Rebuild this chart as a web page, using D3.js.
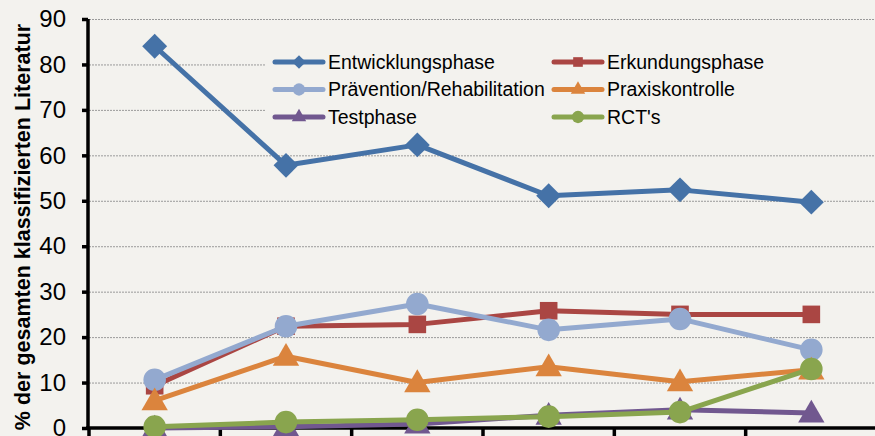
<!DOCTYPE html>
<html>
<head>
<meta charset="utf-8">
<script src="https://cdn.jsdelivr.net/npm/d3@7"></script>
<style>
  body { margin: 0; background: #f3f2ee; }
  svg { display: block; font-family: "Liberation Sans", Arial, sans-serif; }
</style>
</head>
<body>
<div id="viz"></div>
<script>
// categories (x labels lie below the visible area)
var categories = ["1", "2", "3", "4", "5", "6"];
var seriesNames = ["Entwicklungsphase", "Erkundungsphase", "Prävention/Rehabilitation",
                   "Praxiskontrolle", "Testphase", "RCT's"];
var entwicklung = [84, 57.8, 62.3, 51.1, 52.4, 49.7];
var erkundung   = [9.3, 22.4, 22.8, 25.8, 25.0, 25.0];
var praevention = [10.6, 22.4, 27.3, 21.6, 24.0, 17.2];
var praxis      = [6.0, 15.8, 10.0, 13.5, 10.2, 12.8];
var testphase   = [0, 0.3, 0.9, 2.8, 4.0, 3.3];
var rcts        = [0.3, 1.3, 1.8, 2.5, 3.5, 13.0];
var yTicks = [0, 10, 20, 30, 40, 50, 60, 70, 80, 90];

var colors = ["#4572a7", "#aa4643", "#93a9cf", "#db843d", "#71588f", "#89a54e"];

// Excel-like diamond: square turned 45 degrees
var excelDiamond = {
  draw: function(ctx, size) {
    var r = Math.sqrt(size / 2);
    ctx.moveTo(0, -r); ctx.lineTo(r, 0); ctx.lineTo(0, r); ctx.lineTo(-r, 0); ctx.closePath();
  }
};
var symbols = [excelDiamond, d3.symbolSquare, d3.symbolCircle,
               d3.symbolTriangle, d3.symbolTriangle, d3.symbolCircle];
var symSize = [310, 310, 400, 300, 300, 400];

var series = [entwicklung, erkundung, praevention, praxis, testphase, rcts];

var W = 875, H = 436;
var svg = d3.select("#viz").append("svg").attr("width", W).attr("height", H);
svg.append("rect").attr("width", W).attr("height", H).attr("fill", "#f3f2ee");

var x = d3.scaleBand().domain(categories).range([89, 877]);
var y = d3.scaleLinear().domain([0, 90]).range([428, 19]);

// grid
svg.selectAll(".grid").data(yTicks.filter(function(d) { return d > 0; }))
  .enter().append("line")
  .attr("x1", 89).attr("x2", W)
  .attr("y1", function(d) { return y(d) + 0.5; })
  .attr("y2", function(d) { return y(d) + 0.5; })
  .attr("stroke", "#9a9a9a").attr("stroke-width", 1)
  .attr("stroke-dasharray", "2,1");

// legend background hides the grid
svg.append("rect").attr("x", 266).attr("y", 42).attr("width", 620).attr("height", 92)
  .attr("fill", "#f3f2ee");

// y axis
var yAxis = svg.append("g").attr("transform", "translate(88,0)")
  .call(d3.axisLeft(y).tickValues(yTicks).tickSize(6).tickPadding(16));
yAxis.select(".domain").attr("stroke", "#000").attr("stroke-width", 3.5)
  .attr("d", "M0," + y(90) + "V" + (y(0) + 2));
yAxis.selectAll(".tick line").attr("stroke", "#000").attr("stroke-width", 3.5);
yAxis.selectAll(".tick text").attr("font-size", 24).attr("fill", "#000")
  .attr("font-family", "Liberation Sans, Arial, sans-serif");

// x axis
var xAxis = svg.append("g").attr("transform", "translate(0," + y(0) + ")");
xAxis.append("line").attr("x1", 86).attr("x2", W)
  .attr("stroke", "#000").attr("stroke-width", 3.5);
xAxis.selectAll(".xt").data(categories).enter().append("line")
  .attr("x1", function(d) { return x(d); }).attr("x2", function(d) { return x(d); })
  .attr("y1", 0).attr("y2", 8)
  .attr("stroke", "#000").attr("stroke-width", 3.5);

// y title
svg.append("text")
  .attr("transform", "translate(30," + ((26 + 428) / 2) + ") rotate(-90)")
  .attr("text-anchor", "middle")
  .attr("font-size", 21.5).attr("font-weight", "bold")
  .text("% der gesamten klassifizierten Literatur");

var line = d3.line()
  .x(function(d, i) { return x(categories[i]) + x.bandwidth() / 2; })
  .y(function(d) { return y(d); });

series.forEach(function(vals, s) {
  var g = svg.append("g");
  g.append("path").datum(vals).attr("d", line)
    .attr("fill", "none").attr("stroke", colors[s]).attr("stroke-width", 5)
    .attr("stroke-linejoin", "round");
  g.selectAll("path.m").data(vals).enter().append("path")
    .attr("class", "m")
    .attr("d", d3.symbol().type(symbols[s]).size(symSize[s]))
    .attr("transform", function(d, i) {
      var dy = symbols[s] === d3.symbolTriangle ? 2 : 0;
      return "translate(" + (x(categories[i]) + x.bandwidth() / 2) + "," + (y(d) + dy) + ")";
    })
    .attr("fill", colors[s]);
});

// legend
var leg = svg.append("g");
seriesNames.forEach(function(name, s) {
  var col = s % 2, row = Math.floor(s / 2);
  var lx = col === 0 ? 275 : 554;
  var ly = 62 + row * 27.5;
  leg.append("line").attr("x1", lx).attr("x2", lx + 48).attr("y1", ly).attr("y2", ly)
    .attr("stroke", colors[s]).attr("stroke-width", 5).attr("stroke-linecap", "round");
  leg.append("path")
    .attr("d", d3.symbol().type(symbols[s]).size(symSize[s] * 0.3))
    .attr("transform", "translate(" + (lx + 24) + "," + ly + ")")
    .attr("fill", colors[s]);
  leg.append("text").attr("x", lx + 53).attr("y", ly).attr("dy", "0.35em")
    .attr("font-size", 19.5).attr("fill", "#000").text(name);
});
</script>
</body>
</html>
